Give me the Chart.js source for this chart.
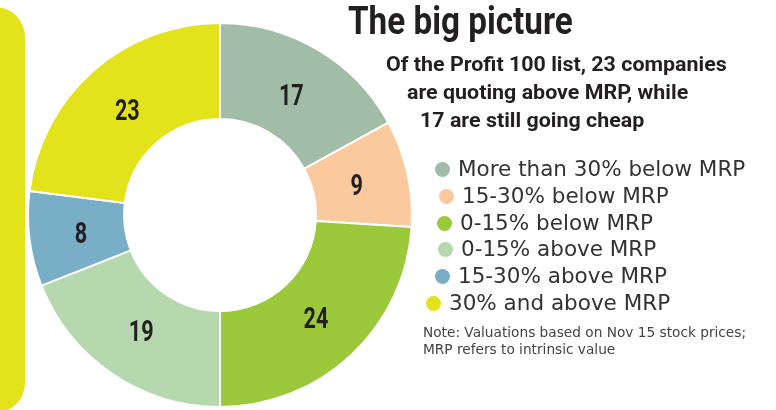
<!DOCTYPE html>
<html>
<head>
<meta charset="utf-8">
<script src="https://cdn.jsdelivr.net/npm/chart.js@4/dist/chart.umd.min.js"></script>
<style>
  html, body { margin: 0; padding: 0; background: #fff; }
  #wrap { position: relative; width: 776px; height: 410px; overflow: hidden; }
  #bar100 { position: absolute; left: -35px; top: 7px; width: 60px; height: 406px; background: #e2e31a; border-radius: 30px; }
  #chart { position: absolute; left: 0; top: 0; }
  .cond { font-family: Roboto, "DejaVu Sans Condensed", sans-serif; font-weight: bold; color: #231f20; position: absolute; white-space: nowrap; transform-origin: left top; }
  #title { left: 348px; top: -1px; font-size: 38px; transform: scaleX(0.875); }
  .sub { font-size: 21px; transform: scaleX(1.02); }
  #legend div { position: absolute; font-family: "DejaVu Sans", sans-serif; font-size: 21.5px; color: #333; white-space: nowrap; }
  #legend span { display: inline-block; width: 15px; height: 15px; border-radius: 50%; margin-right: 8px; vertical-align: -1px; }
  #note { position: absolute; left: 423px; top: 324px; font-family: "DejaVu Sans", sans-serif; font-size: 13.7px; line-height: 17px; color: #444; }
</style>
</head>
<body>
<div id="wrap">
  <div id="bar100"></div>
  <canvas id="chart" width="776" height="410"></canvas>
  <div id="title" class="cond">The big picture</div>
  <div class="cond sub" style="left:386px; top:52px;">Of the Profit 100 list, 23 companies</div>
  <div class="cond sub" style="left:407px; top:80px;">are quoting above MRP, while</div>
  <div class="cond sub" style="left:420px; top:108px;">17 are still going cheap</div>
  <div id="legend"></div>
  <div id="note">Note: Valuations based on Nov 15 stock prices;<br>MRP refers to intrinsic value</div>
</div>
<script>
// Data
const categories = [
  "More than 30% below MRP",
  "15-30% below MRP",
  "0-15% below MRP",
  "0-15% above MRP",
  "15-30% above MRP",
  "30% and above MRP"
];
const companyCounts = [17, 9, 24, 19, 8, 23];
const sliceColors = ["#a1bca7", "#fbc99e", "#9cc93c", "#b5d8ae", "#78aec6", "#e2e31a"];

// Legend rows are staggered a little in the original layout
const legendOffsets = [
  { x: 435, y: 156 },
  { x: 439, y: 183 },
  { x: 437, y: 210 },
  { x: 438, y: 236 },
  { x: 435, y: 263 },
  { x: 426, y: 290 }
];

const buildLegend = () => {
  const legendEl = document.getElementById("legend");
  categories.forEach((label, i) => {
    const row = document.createElement("div");
    row.style.left = legendOffsets[i].x + "px";
    row.style.top = legendOffsets[i].y + "px";
    row.innerHTML = `<span style="background:${sliceColors[i]}"></span>${label}`;
    legendEl.appendChild(row);
  });
};

// draws the count inside each slice, squeezed to look condensed
const sliceLabels = {
  id: "sliceLabels",
  afterDatasetsDraw(chart) {
    const { ctx } = chart;
    const meta = chart.getDatasetMeta(0);
    meta.data.forEach((arc, i) => {
      const { x, y, startAngle, endAngle, innerRadius, outerRadius } = arc.getProps(
        ["x", "y", "startAngle", "endAngle", "innerRadius", "outerRadius"], true);
      const mid = (startAngle + endAngle) / 2;
      const r = innerRadius + (outerRadius - innerRadius) * 0.46;
      ctx.save();
      ctx.translate(x + Math.cos(mid) * r, y + Math.sin(mid) * r + 3);
      ctx.scale(0.72, 1);
      ctx.font = 'bold 30px Roboto, "DejaVu Sans Condensed", sans-serif';
      ctx.fillStyle = "#231f20";
      ctx.textAlign = "center";
      ctx.textBaseline = "middle";
      ctx.fillText(String(companyCounts[i]), 0, 0);
      ctx.restore();
    });
  }
};

document.addEventListener("DOMContentLoaded", () => {
  buildLegend();
  const ctx = document.getElementById("chart").getContext("2d");
  new Chart(ctx, {
    type: "doughnut",
    data: {
      labels: categories,
      datasets: [{
        data: companyCounts,
        backgroundColor: sliceColors,
        borderColor: "#ffffff",
        borderWidth: 2
      }]
    },
    options: {
      responsive: false,
      animation: false,
      cutout: "50%",
      layout: { padding: { left: 27, right: 363, top: 22, bottom: 2 } },
      plugins: {
        legend: { display: false },
        tooltip: { enabled: false }
      }
    },
    plugins: [sliceLabels]
  });
});
</script>
</body>
</html>
